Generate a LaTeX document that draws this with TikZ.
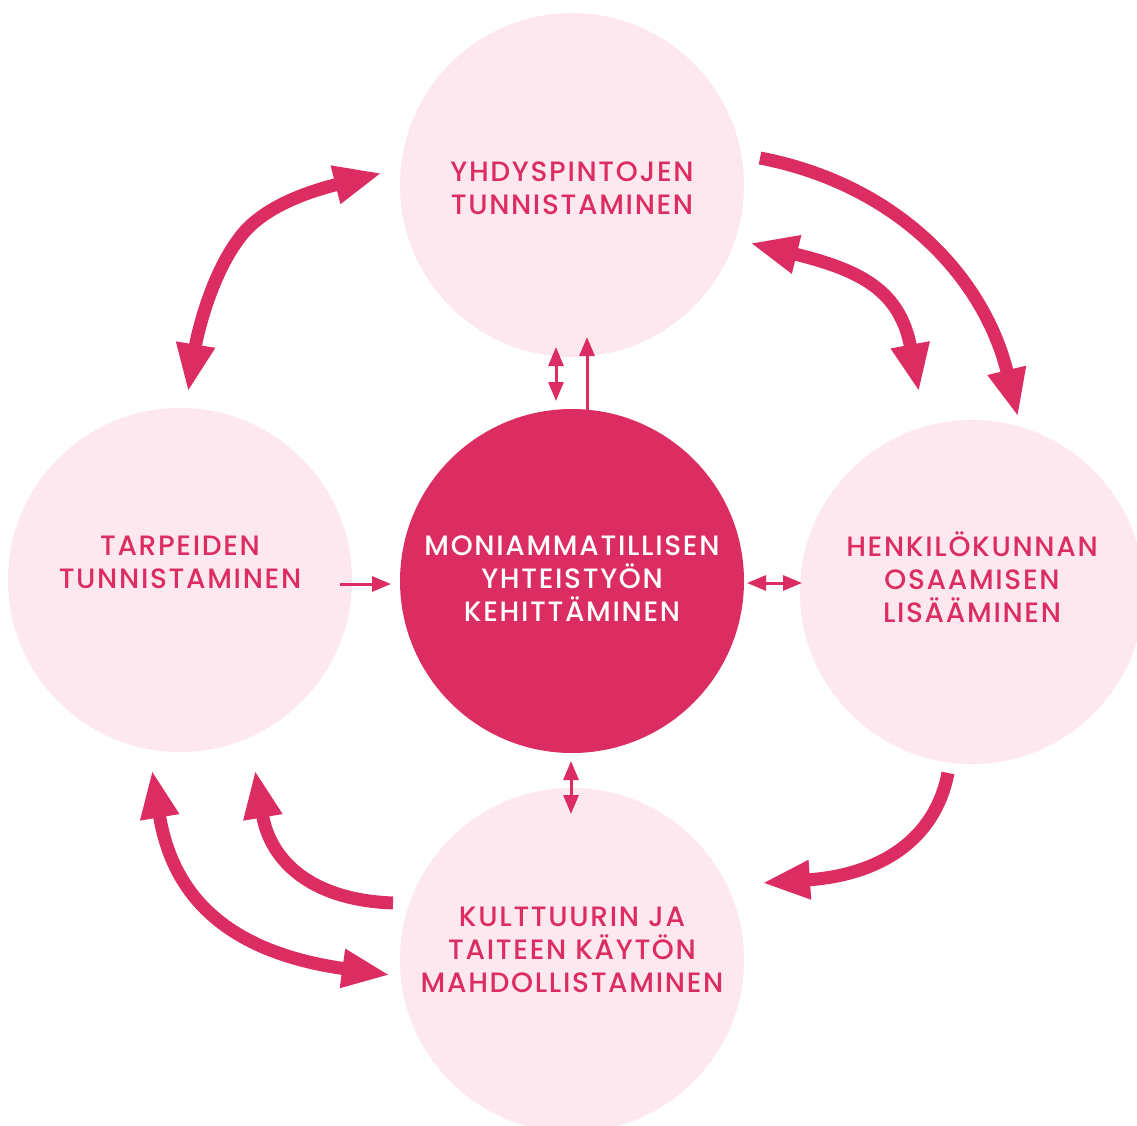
\documentclass[tikz,border=0pt]{standalone}
\usepackage{fontspec}
\setmainfont{Poppins}[UprightFont={* Medium},LetterSpace=6]
\usetikzlibrary{arrows.meta}
\definecolor{dpink}{RGB}{220,45,98}
\definecolor{lpink}{RGB}{252,232,238}
\tikzset{
  lcirc/.style={circle, fill=lpink, minimum size=344pt, inner sep=0pt},
  dcirc/.style={circle, fill=dpink, minimum size=344pt, inner sep=0pt},
  ltext/.style={align=center, text=dpink, inner sep=0pt, font=\fontsize{28}{33}\selectfont},
  dtext/.style={align=center, text=white, inner sep=0pt, font=\fontsize{28}{33}\selectfont},
  big/.style={draw=dpink, line width=13pt, -{Triangle[width=36pt,length=48pt]}},
  bigd/.style={draw=dpink, line width=13pt, {Triangle[width=36pt,length=48pt]}-{Triangle[width=36pt,length=48pt]}},
  small/.style={draw=dpink, line width=3pt, -{Triangle[width=15pt,length=19pt]}},
  smalld/.style={draw=dpink, line width=3pt, {Triangle[width=15pt,length=19pt]}-{Triangle[width=15pt,length=19pt]}}
}
\begin{document}
\begin{tikzpicture}[x=1pt,y=-1pt]
\useasboundingbox (0,0) rectangle (1137,1126);
\begin{scope}
\clip (0,0) rectangle (1137,1126);
\node[lcirc] (top) at (572,185) {};
\node[lcirc] (left) at (180,580) {};
\node[dcirc] (mid) at (572,581) {};
\node[lcirc] (right) at (972,592) {};
\node[lcirc] (bot) at (572,960) {};
\end{scope}
\node[ltext] (topt) at (572,188) {YHDYSPINTOJEN\\TUNNISTAMINEN};
\node[ltext] (leftt) at (180,562) {TARPEIDEN\\TUNNISTAMINEN};
\node[dtext] (midt) at (572,579) {MONIAMMATILLISEN\\YHTEISTYÖN\\KEHITTÄMINEN};
\node[ltext] (rightt) at (972,577) {HENKILÖKUNNAN\\OSAAMISEN\\LISÄÄMINEN};
\node[ltext] (bott) at (572,950) {KULTTUURIN JA\\TAITEEN KÄYTÖN\\MAHDOLLISTAMINEN};
% coordinates for big arrows
\coordinate (a1s) at (188,392); \coordinate (a1m) at (238,240); \coordinate (a1e) at (382,173);
\coordinate (a2s) at (760,158); \coordinate (a2e) at (1018,417);
\coordinate (a3s) at (750,243); \coordinate (a3e) at (919,392);
\coordinate (a4s) at (948,773); \coordinate (a4e) at (762,883);
\coordinate (a5s) at (152,770); \coordinate (a5e) at (390,975);
\coordinate (a6s) at (393,903); \coordinate (a6e) at (255,770);
\draw[bigd] (a1s) .. controls (198,330) and (212,275) .. (a1m) .. controls (262,205) and (315,190) .. (a1e);
\draw[big] (a2s) .. controls (900,185) and (985,280) .. (a2e);
\draw[bigd] (a3s) .. controls (860,270) and (900,290) .. (a3e);
\draw[big] (a4s) .. controls (935,840) and (880,875) .. (a4e);
\draw[bigd] (a5s) .. controls (170,880) and (210,950) .. (a5e);
\draw[big] (a6s) .. controls (310,900) and (270,860) .. (a6e);
% small arrows
\coordinate (s1a) at (556,347); \coordinate (s1b) at (556,401);
\coordinate (s2a) at (587,410); \coordinate (s2b) at (587,337);
\coordinate (s3a) at (340,584); \coordinate (s3b) at (391,584);
\coordinate (s4a) at (747,583); \coordinate (s4b) at (802,583);
\coordinate (s5a) at (571,761); \coordinate (s5b) at (571,814);
\draw[smalld] (s1a) -- (s1b);
\draw[small] (s2a) -- (s2b);
\draw[small] (s3a) -- (s3b);
\draw[smalld] (s4a) -- (s4b);
\draw[smalld] (s5a) -- (s5b);
\end{tikzpicture}
\end{document}
